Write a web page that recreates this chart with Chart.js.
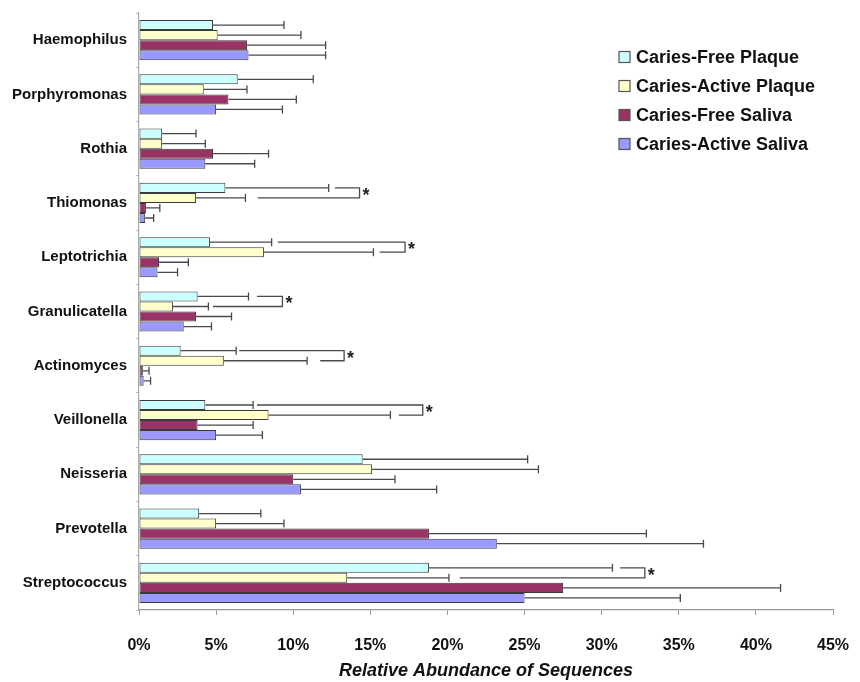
<!DOCTYPE html>
<html>
<head>
<meta charset="utf-8">
<script src="https://cdn.jsdelivr.net/npm/chart.js@4"></script>
<style>
  html, body { margin: 0; padding: 0; background: #fff; }
  #wrap { width: 860px; height: 682px; position: relative; }
</style>
</head>
<body>
<div id="wrap"><canvas id="chart" width="860" height="682"></canvas></div>
<script>
// Gattungen (von oben nach unten)
const genera = ['Haemophilus', 'Porphyromonas', 'Rothia', 'Thiomonas', 'Leptotrichia',
  'Granulicatella', 'Actinomyces', 'Veillonella', 'Neisseria', 'Prevotella', 'Streptococcus'];

// Mittelwerte in %
const cfPlaque = [4.8, 6.4, 1.5, 5.6, 4.6, 3.8, 2.7, 4.3, 14.5, 3.9, 18.8];
const caPlaque = [5.1, 4.2, 1.5, 3.7, 8.1, 2.2, 5.5, 8.4, 15.1, 5.0, 13.5];
const cfSaliva = [7.0, 5.8, 4.8, 0.45, 1.3, 3.7, 0.25, 3.8, 10.0, 18.8, 27.5];
const caSaliva = [7.1, 5.0, 4.3, 0.4, 1.2, 2.9, 0.3, 5.0, 10.5, 23.2, 25.0];

// obere Enden der Fehlerbalken in %
const cfPlaqueHi = [9.4, 11.3, 3.7, 12.3, 8.6, 7.1, 6.3, 7.4, 25.2, 7.9, 30.7];
const caPlaqueHi = [10.5, 7.0, 4.3, 6.9, 15.2, 4.5, 10.9, 16.3, 25.9, 9.4, 20.1];
const cfSalivaHi = [12.1, 10.2, 8.4, 1.35, 3.2, 6.0, 0.65, 7.4, 16.6, 32.9, 41.6];
const caSalivaHi = [12.1, 9.3, 7.5, 0.95, 2.5, 4.7, 0.75, 8.0, 19.3, 36.6, 35.1];

// Signifikanz-Klammern: [Gattung, Start oben, Start unten, rechte Kante] in %
const sigBrackets = [
  ['Thiomonas', 12.7, 7.7, 14.3],
  ['Leptotrichia', 9.0, 15.6, 17.25],
  ['Granulicatella', 7.65, 4.8, 9.3],
  ['Actinomyces', 6.5, 11.75, 13.3],
  ['Veillonella', 7.65, 16.85, 18.4],
  ['Streptococcus', 31.2, 20.8, 32.8]
];

const xTicks = [0, 5, 10, 15, 20, 25, 30, 35, 40, 45];

const seriesNames = ['Caries-Free Plaque', 'Caries-Active Plaque', 'Caries-Free Saliva', 'Caries-Active Saliva'];
const seriesColors = ['#ccffff', '#ffffcc', '#993366', '#9999ff'];
const seriesValues = [cfPlaque, caPlaque, cfSaliva, caSaliva];
const seriesHi = [cfPlaqueHi, caPlaqueHi, cfSalivaHi, caSalivaHi];

const FONT = "'Liberation Sans', Arial, sans-serif";

// Fehlerbalken zeichnen
const errorBarPlugin = {
  id: 'errorBars',
  afterDatasetsDraw(chart) {
    const ctx = chart.ctx;
    const xs = chart.scales.x;
    ctx.save();
    ctx.strokeStyle = '#4a4a4a';
    ctx.lineWidth = 1.3;
    chart.data.datasets.forEach((ds, i) => {
      const meta = chart.getDatasetMeta(i);
      meta.data.forEach((bar, j) => {
        const xe = xs.getPixelForValue(ds.hi[j]);
        ctx.beginPath();
        ctx.moveTo(bar.x, bar.y);
        ctx.lineTo(xe, bar.y);
        ctx.moveTo(xe, bar.y - 4);
        ctx.lineTo(xe, bar.y + 4);
        ctx.stroke();
      });
    });
    ctx.restore();
  }
};

// Klammern mit Stern
const bracketPlugin = {
  id: 'brackets',
  afterDatasetsDraw(chart) {
    const ctx = chart.ctx;
    const xs = chart.scales.x;
    const top = chart.getDatasetMeta(0);
    const bottom = chart.getDatasetMeta(1);
    ctx.save();
    ctx.strokeStyle = '#4a4a4a';
    ctx.lineWidth = 1.3;
    ctx.fillStyle = '#222';
    ctx.font = 'bold 18px ' + FONT;
    ctx.textBaseline = 'middle';
    sigBrackets.forEach(b => {
      const idx = genera.indexOf(b[0]);
      const y1 = top.data[idx].y;
      const y2 = bottom.data[idx].y;
      const xr = xs.getPixelForValue(b[3]);
      ctx.beginPath();
      ctx.moveTo(xs.getPixelForValue(b[1]), y1);
      ctx.lineTo(xr, y1);
      ctx.lineTo(xr, y2);
      ctx.lineTo(xs.getPixelForValue(b[2]), y2);
      ctx.stroke();
      ctx.fillText('*', xr + 3, (y1 + y2) / 2 + 3);
    });
    ctx.restore();
  }
};

// Legende oben rechts
const legendPlugin = {
  id: 'boxLegend',
  afterDraw(chart) {
    const ctx = chart.ctx;
    ctx.save();
    ctx.font = 'bold 18px ' + FONT;
    ctx.textBaseline = 'middle';
    chart.data.datasets.forEach((ds, i) => {
      const y = 57 + i * 29;
      ctx.fillStyle = ds.backgroundColor;
      ctx.fillRect(619, y - 5.5, 11, 11);
      ctx.strokeStyle = '#555';
      ctx.lineWidth = 1.2;
      ctx.strokeRect(619, y - 5.5, 11, 11);
      ctx.fillStyle = '#111';
      ctx.fillText(ds.label, 636, y + 1);
    });
    ctx.restore();
  }
};

new Chart(document.getElementById('chart'), {
  type: 'bar',
  data: {
    labels: genera,
    datasets: seriesNames.map((name, i) => ({
      label: name,
      data: seriesValues[i],
      hi: seriesHi[i],
      backgroundColor: seriesColors[i],
      borderColor: '#3a3a3a',
      borderWidth: 1,
      borderSkipped: false,
      categoryPercentage: 0.74,
      barPercentage: 1.0
    }))
  },
  options: {
    indexAxis: 'y',
    responsive: false,
    animation: false,
    layout: { padding: { top: 13, right: 27, left: 0, bottom: 0 } },
    plugins: {
      legend: { display: false },
      tooltip: { enabled: false }
    },
    scales: {
      x: {
        min: 0,
        max: 45,
        afterBuildTicks(scale) {
          scale.ticks = xTicks.map(v => ({ value: v }));
        },
        afterFit(scale) {
          scale.height = 72;
          scale.paddingLeft = 0;
          scale.paddingRight = 0;
        },
        ticks: {
          color: '#111',
          padding: 21,
          font: { family: FONT, size: 16, weight: 'bold' },
          callback: v => v + '%'
        },
        grid: { drawOnChartArea: false, tickLength: 5, color: '#999' },
        border: { color: '#999', width: 1.2 },
        title: {
          display: true,
          text: 'Relative Abundance of Sequences',
          color: '#111',
          padding: { top: 0, bottom: 0 },
          font: { family: FONT, size: 18, weight: 'bold', style: 'italic' }
        }
      },
      y: {
        afterFit(scale) {
          scale.width = 139;
          scale.paddingTop = 0;
          scale.paddingBottom = 0;
        },
        ticks: {
          color: '#111',
          padding: 9,
          font: { family: FONT, size: 15, weight: 'bold' }
        },
        grid: { drawOnChartArea: false, tickLength: 3, color: '#bbb' },
        border: { color: '#aaa', width: 1.2 }
      }
    }
  },
  plugins: [errorBarPlugin, bracketPlugin, legendPlugin]
});
</script>
</body>
</html>
